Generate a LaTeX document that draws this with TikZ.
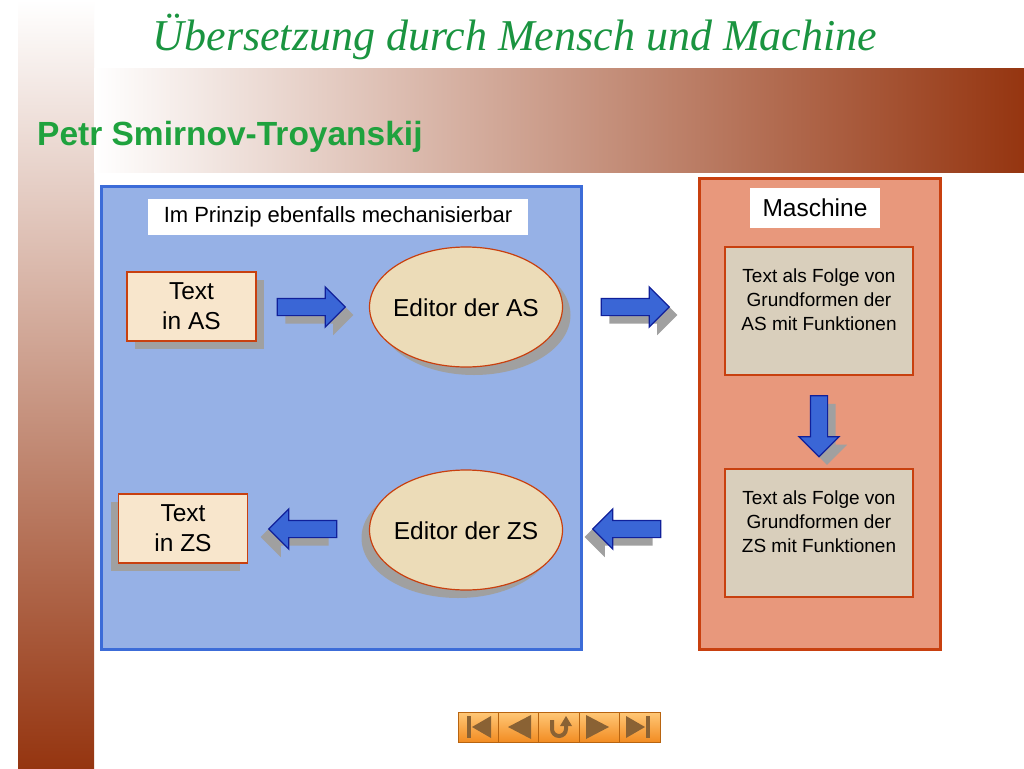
\documentclass[tikz,border=0pt]{standalone}
\usepackage{fontspec}
\setmainfont{Liberation Sans}
\newfontfamily\titlefont{Liberation Serif}
\usetikzlibrary{shapes.geometric,shapes.arrows,shadows}
\definecolor{barbrown}{HTML}{953510}
\definecolor{titlegreen}{HTML}{1A9440}
\definecolor{headgreen}{HTML}{1FA23E}
\definecolor{bluefill}{HTML}{96B1E6}
\definecolor{blueline}{HTML}{3C6CD8}
\definecolor{redfill}{HTML}{E8987C}
\definecolor{redline}{HTML}{C8400F}
\definecolor{parchment}{HTML}{F8E6CC}
\definecolor{eggfill}{HTML}{ECDCB8}
\definecolor{grainfill}{HTML}{D9CFBC}
\definecolor{arrowblue}{HTML}{3A66D6}
\definecolor{arrowline}{HTML}{10209A}
\definecolor{shadowgray}{HTML}{A0A0A0}
\definecolor{navtop}{HTML}{FFC878}
\definecolor{navbottom}{HTML}{F28C22}
\definecolor{navline}{HTML}{B86410}
\definecolor{navicon}{HTML}{8A6234}
\tikzset{
  shadowr/.style={drop shadow={shadow xshift=8pt,shadow yshift=-8pt,fill=shadowgray,opacity=1}},
  shadowl/.style={drop shadow={shadow xshift=-8pt,shadow yshift=-8pt,fill=shadowgray,opacity=1}},
  textbox/.style={draw=redline,fill=parchment,line width=1.5pt,minimum width=129pt,minimum height=69pt,
    align=center,font=\fontsize{24.5}{30}\selectfont},
  editor/.style={ellipse,draw=redline,fill=eggfill,line width=1.2pt,minimum width=193pt,minimum height=120pt},
  editortext/.style={inner sep=0pt,font=\fontsize{24.5}{30}\selectfont},
  blockarrow/.style={single arrow,draw=arrowline,fill=arrowblue,line width=1.2pt,inner sep=8pt,
    minimum height=68pt,minimum width=39pt,single arrow head extend=11.5pt},
  grainbox/.style={draw=redline,fill=grainfill,line width=2.5pt,minimum width=188pt,minimum height=128pt},
  graintext/.style={align=center,inner sep=0pt,font=\fontsize{19}{24}\selectfont},
  label/.style={fill=white,inner sep=0pt},
  navbutton/.style={draw=navline,top color=navtop,bottom color=navbottom,line width=.8pt,
    minimum width=40.4pt,minimum height=30pt,inner sep=0pt}
}
\begin{document}
\begin{tikzpicture}[x=1pt,y=-1pt]
\useasboundingbox (0,0) rectangle (1024,768);
\fill[white] (0,0) rectangle (1024,768);
% background bars
\shade[top color=white,bottom color=barbrown] (18,0) rectangle (94,768);
\shade[left color=white,right color=barbrown] (94,68) rectangle (1024,172);
% titles
\node[anchor=base,text=titlegreen,font=\titlefont\itshape\fontsize{44}{48}\selectfont] (title) at (515,50) {Übersetzung durch Mensch und Machine};
\node[anchor=base west,inner sep=0pt,text=headgreen,font=\bfseries\fontsize{33.5}{38}\selectfont] (head) at (37,145) {Petr Smirnov-Troyanskij};
% panels
\draw[blueline,fill=bluefill,line width=3pt] (101,186) rectangle (581,649);
\draw[redline,fill=redfill,line width=3pt] (699,178) rectangle (940,649);
\node[label,minimum width=380pt,minimum height=36pt,font=\fontsize{22}{26}\selectfont] (prinzip) at (338,217) {Im Prinzip ebenfalls mechanisierbar};
\node[label,minimum width=130pt,minimum height=40pt,font=\fontsize{24.5}{28}\selectfont] (maschine) at (815,208) {Maschine};
% upper row
\node[textbox,shadowr] (textas) at (191.5,306.5) {Text\\in AS};
\node[blockarrow,shadowr] (arr1) at (307,307) {};
\node[editor,shadowr] (editoras) at (466,307) {};
\node[editortext] (editorastext) at (466,308) {Editor der AS};
\node[blockarrow,shadowr] (arr2) at (631,307) {};
\node[grainbox] (folgeas) at (819,311) {};
\node[graintext] (folgeastext) at (819,300) {Text als Folge von\\Grundformen der\\AS mit Funktionen};
% down
\node[blockarrow,shadowr,shape border rotate=270,minimum height=61pt] (arr3) at (819,422) {};
\node[grainbox] (folgezs) at (819,533) {};
\node[graintext] (folgezstext) at (819,522) {Text als Folge von\\Grundformen der\\ZS mit Funktionen};
% lower row
\node[blockarrow,shadowl,shape border rotate=180] (arr4) at (631,529) {};
\node[editor,shadowl] (editorzs) at (466,530) {};
\node[editortext] (editorzstext) at (466,531) {Editor der ZS};
\node[blockarrow,shadowl,shape border rotate=180] (arr5) at (307,529) {};
\node[textbox,shadowl] (textzs) at (183,528.5) {Text\\in ZS};
% navigation
\foreach \i in {1,...,5}
  \node[navbutton] (nav\i) at (458+40.4*\i-20.2,727) {};
\fill[navicon] (467,716) rectangle (471,738);
\fill[navicon] (491,716) -- (491,738) -- (472,727) -- cycle;
\fill[navicon] (531,715) -- (531,739) -- (508,727) -- cycle;
\draw[navicon,line width=4pt] (552,720) -- (552,729) arc[start angle=180,end angle=0,radius=7] -- (566,725);
\fill[navicon] (560,726) -- (572,726) -- (566,716) -- cycle;
\fill[navicon] (586,715) -- (586,739) -- (609,727) -- cycle;
\fill[navicon] (626,716) -- (626,738) -- (645,727) -- cycle;
\fill[navicon] (646,716) rectangle (650,738);
\end{tikzpicture}
\end{document}
